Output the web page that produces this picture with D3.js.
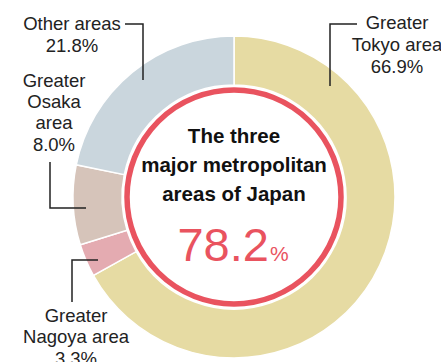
<!DOCTYPE html>
<html>
<head>
<meta charset="utf-8">
<script src="https://cdn.jsdelivr.net/npm/d3@7/dist/d3.min.js"></script>
<style>
  html, body { margin: 0; padding: 0; background: #fff; }
  svg { display: block; }
  text { font-family: "Liberation Sans", Arial, Helvetica, sans-serif; }
</style>
</head>
<body>
<svg id="chart" width="441" height="362"></svg>
<script>
// ---- data ----
const categories = ["Greater Tokyo area", "Greater Nagoya area", "Greater Osaka area", "Other areas"];
const shares = [66.9, 3.3, 8.0, 21.8];
const sliceColors = ["#e6dba3", "#e4abb1", "#d6c4ba", "#cad6dd"];
const labelLines = [
  ["Greater", "Tokyo area", "66.9%"],
  ["Greater", "Nagoya area", "3.3%"],
  ["Greater", "Osaka", "area", "8.0%"],
  ["Other areas", "21.8%"]
];
const centerTitle = ["The three", "major metropolitan", "areas of Japan"];
const centerValue = "78.2";
const centerUnit = "%";

// ---- layout ----
const svg = d3.select("#chart");
const cx = 234, cy = 197;
const outerR = 161, innerR = 112;
const g = svg.append("g").attr("transform", `translate(${cx},${cy})`);

const pie = d3.pie().sort(null).value(d => d).startAngle(0).endAngle(2 * Math.PI);
const arc = d3.arc().innerRadius(innerR).outerRadius(outerR);

g.selectAll("path.slice")
  .data(pie(shares))
  .join("path")
  .attr("class", "slice")
  .attr("d", arc)
  .attr("fill", (d, i) => sliceColors[i])
  .attr("stroke", "#ffffff")
  .attr("stroke-width", 1.5);

// red ring
g.append("circle")
  .attr("r", 107)
  .attr("fill", "none")
  .attr("stroke", "#e9535f")
  .attr("stroke-width", 5.5);

// center text
const titleY = [143, 172, 201];
g.selectAll("text.title")
  .data(centerTitle)
  .join("text")
  .attr("class", "title")
  .attr("x", 0)
  .attr("y", (d, i) => titleY[i] - cy)
  .attr("text-anchor", "middle")
  .attr("font-weight", "bold")
  .attr("font-size", 20.5)
  .attr("fill", "#111")
  .text(d => d);

const val = g.append("text")
  .attr("x", -1)
  .attr("y", 261 - cy)
  .attr("text-anchor", "middle")
  .attr("fill", "#e9535f");
val.append("tspan").attr("font-size", 47).text(centerValue);
val.append("tspan").attr("font-size", 21).attr("dx", 1).text(centerUnit);

// labels
const labelFont = 18.5;
const labelColor = "#222";
const labelSpecs = [
  { x: 397, ys: [29, 51, 73] },
  { x: 76, ys: [322, 343, 365] },
  { x: 54, ys: [87, 108, 129, 151] },
  { x: 72, ys: [30, 52] }
];
labelSpecs.forEach((s, i) => {
  svg.append("g").selectAll("text")
    .data(labelLines[i])
    .join("text")
    .attr("x", s.x)
    .attr("y", (d, j) => s.ys[j])
    .attr("text-anchor", "middle")
    .attr("font-size", labelFont)
    .attr("fill", labelColor)
    .text(d => d);
});

// leader lines
const leaders = [
  [[357, 24], [330, 24], [330, 86]],
  [[98, 260], [72, 260], [72, 302]],
  [[50, 162], [50, 208], [86, 208]],
  [[125, 24], [143, 24], [143, 80]]
];
const line = d3.line();
svg.selectAll("path.leader")
  .data(leaders)
  .join("path")
  .attr("class", "leader")
  .attr("d", line)
  .attr("fill", "none")
  .attr("stroke", "#222")
  .attr("stroke-width", 1.5);
</script>
</body>
</html>
